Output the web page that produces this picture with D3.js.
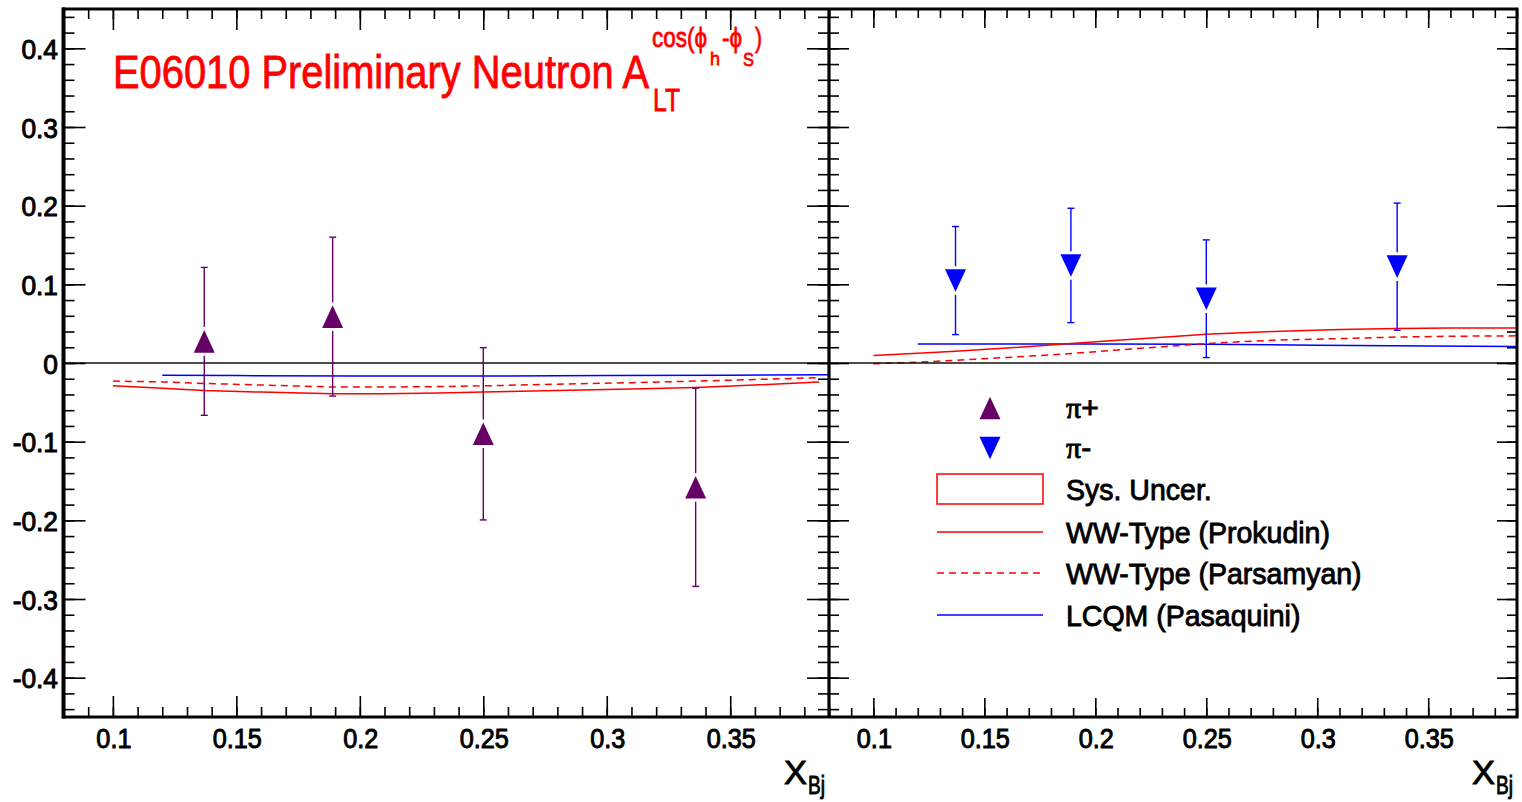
<!DOCTYPE html>
<html>
<head>
<meta charset="utf-8">
<script src="https://cdn.jsdelivr.net/npm/d3@7"></script>
<style>
  html, body { margin: 0; padding: 0; background: #fff; }
  svg { display: block; font-family: "Liberation Sans", Arial, sans-serif; }
</style>
</head>
<body>
<script>
// ---------------- DATA ----------------
const xBins = [0.137, 0.189, 0.250, 0.336];
const piPlusA   = [0.0275, 0.059, -0.090, -0.158];
const piPlusErr = [0.094, 0.101, 0.1095, 0.126];
const piMinusA   = [0.1048, 0.124, 0.0817, 0.1225];
const piMinusErr = [0.0687, 0.0727, 0.0748, 0.0808];

const wwX = [0.10, 0.12, 0.137, 0.16, 0.189, 0.21, 0.232, 0.25, 0.28, 0.31, 0.336, 0.36, 0.386];
const prokudinPiPlus  = [-0.029, -0.032, -0.035, -0.037, -0.039, -0.039, -0.038, -0.037, -0.035, -0.033, -0.031, -0.028, -0.024];
const parsamyanPiPlus = [-0.023, -0.024, -0.026, -0.028, -0.0305, -0.0305, -0.030, -0.029, -0.027, -0.025, -0.023, -0.021, -0.0186];

const wwXR = [0.10, 0.12, 0.137, 0.16, 0.189, 0.21, 0.232, 0.25, 0.28, 0.31, 0.336, 0.36, 0.39];
const prokudinPiMinus  = [0.0095, 0.0125, 0.015, 0.019, 0.0247, 0.029, 0.033, 0.0366, 0.040, 0.0425, 0.0439, 0.0445, 0.0445];
const parsamyanPiMinus = [-0.001, 0.001, 0.0035, 0.007, 0.012, 0.0165, 0.021, 0.0247, 0.029, 0.031, 0.033, 0.034, 0.0345];

const lcqmX = [0.12, 0.15, 0.20, 0.25, 0.30, 0.35, 0.39];
const lcqmPiPlus  = [-0.0157, -0.016, -0.0165, -0.0165, -0.016, -0.0155, -0.015];
const lcqmPiMinus = [0.024, 0.024, 0.0242, 0.0239, 0.0225, 0.0215, 0.021];

const xDomain = [0.08, 0.39];
const yDomain = [-0.45, 0.45];
const xMajor = [0.1, 0.15, 0.2, 0.25, 0.3, 0.35];
const xMinor = d3.range(8, 40).map(v => v / 100);
const yMajor = [-0.4, -0.3, -0.2, -0.1, 0, 0.1, 0.2, 0.3, 0.4];
const yMinor = d3.range(-22, 23).map(v => v / 50);

const legendLabels = ["Sys. Uncer.", "WW-Type (Prokudin)", "WW-Type (Parsamyan)", "LCQM (Pasaquini)"];

// ---------------- STYLE ----------------
const PURPLE = "#660066", BLUE = "#0000ff", RED = "#ff0000";
const T = 9, B = 717, L0 = 63.5, L1 = 829, R1 = 1517;

const svg = d3.select("body").append("svg").attr("width", 1522).attr("height", 802);

const y = d3.scaleLinear().domain(yDomain).range([B, T]);
const xL = d3.scaleLinear().domain(xDomain).range([L0, L1]);
const xR = d3.scaleLinear().domain(xDomain).range([L1, R1]);

function squeeze(sel, f) {
  sel.each(function () {
    const len = this.getComputedTextLength();
    d3.select(this).attr("textLength", len * f).attr("lengthAdjust", "spacingAndGlyphs");
  });
}

const line = (xs) => d3.line().x(d => xs(d[0])).y(d => y(d[1]));
const zip = (a, b) => a.map((v, i) => [v, b[i]]);

// ---------------- CURVES ----------------
const curves = svg.append("g").attr("fill", "none").attr("stroke-width", 1.5);
curves.append("path").attr("d", line(xL)(zip(lcqmX, lcqmPiPlus))).attr("stroke", BLUE);
curves.append("path").attr("d", line(xL)(zip(wwX, parsamyanPiPlus))).attr("stroke", RED).attr("stroke-dasharray", "7,5");
curves.append("path").attr("d", line(xL)(zip(wwX, prokudinPiPlus))).attr("stroke", RED);
curves.append("path").attr("d", line(xR)(zip(lcqmX, lcqmPiMinus))).attr("stroke", BLUE);
curves.append("path").attr("d", line(xR)(zip(wwXR, parsamyanPiMinus))).attr("stroke", RED).attr("stroke-dasharray", "7,5");
curves.append("path").attr("d", line(xR)(zip(wwXR, prokudinPiMinus))).attr("stroke", RED);

// zero line
svg.append("line").attr("x1", L0).attr("x2", R1).attr("y1", y(0)).attr("y2", y(0))
  .attr("stroke", "#111").attr("stroke-width", 1.4);

// ---------------- DATA POINTS ----------------
const HW = 10.5, HH = 11.3, GAP = 3;
function triPath(cx, cy, up) {
  return up
    ? `M${cx},${cy - HH}L${cx + HW},${cy + HH}L${cx - HW},${cy + HH}Z`
    : `M${cx - HW},${cy - HH}L${cx + HW},${cy - HH}L${cx},${cy + HH}Z`;
}
function drawPoints(xs, vals, errs, color, up) {
  const g = svg.append("g");
  vals.forEach((v, i) => {
    const cx = xs(xBins[i]), cy = y(v), top = y(v + errs[i]), bot = y(v - errs[i]);
    const eg = g.append("g").attr("stroke", color).attr("stroke-width", 1.4);
    eg.append("line").attr("x1", cx).attr("x2", cx).attr("y1", top).attr("y2", cy - HH - GAP);
    eg.append("line").attr("x1", cx).attr("x2", cx).attr("y1", cy + HH + GAP).attr("y2", bot);
    eg.append("line").attr("x1", cx - 3.5).attr("x2", cx + 3.5).attr("y1", top).attr("y2", top);
    eg.append("line").attr("x1", cx - 3.5).attr("x2", cx + 3.5).attr("y1", bot).attr("y2", bot);
    g.append("path").attr("d", triPath(cx, cy, up)).attr("fill", color);
  });
}
drawPoints(xL, piPlusA, piPlusErr, PURPLE, true);
drawPoints(xR, piMinusA, piMinusErr, BLUE, false);

// ---------------- AXES ----------------
function ticks(gen, pos, vals, size) {
  svg.append("g").attr("transform", pos)
    .call(gen.tickValues(vals).tickSize(size).tickFormat(""))
    .call(g => g.select(".domain").remove())
    .selectAll("line").attr("stroke", "#000").attr("stroke-width", 1.6);
}
// left panel
ticks(d3.axisRight(y), `translate(${L0},0)`, yMajor, 22);
ticks(d3.axisRight(y), `translate(${L0},0)`, yMinor, 11);
ticks(d3.axisLeft(y), `translate(${L1},0)`, yMajor, 22);
ticks(d3.axisLeft(y), `translate(${L1},0)`, yMinor, 11);
ticks(d3.axisBottom(xL), `translate(0,${T})`, xMajor, 21);
ticks(d3.axisBottom(xL), `translate(0,${T})`, xMinor, 10);
ticks(d3.axisTop(xL), `translate(0,${B})`, xMajor, 21);
ticks(d3.axisTop(xL), `translate(0,${B})`, xMinor, 10);
// right panel
ticks(d3.axisRight(y), `translate(${L1},0)`, yMajor, 20);
ticks(d3.axisRight(y), `translate(${L1},0)`, yMinor, 10);
ticks(d3.axisLeft(y), `translate(${R1},0)`, yMajor, 20);
ticks(d3.axisLeft(y), `translate(${R1},0)`, yMinor, 10);
ticks(d3.axisBottom(xR), `translate(0,${T})`, xMajor, 19);
ticks(d3.axisBottom(xR), `translate(0,${T})`, xMinor, 9);
ticks(d3.axisTop(xR), `translate(0,${B})`, xMajor, 19);
ticks(d3.axisTop(xR), `translate(0,${B})`, xMinor, 9);

// frames
const frame = svg.append("g").attr("fill", "none").attr("stroke", "#000");
frame.append("rect").attr("x", L0).attr("y", T).attr("width", R1 - L0).attr("height", B - T).attr("stroke-width", 3);
frame.append("line").attr("x1", L1).attr("x2", L1).attr("y1", T).attr("y2", B).attr("stroke-width", 3.2);
frame.append("line").attr("x1", L0).attr("x2", L0).attr("y1", T - 1.5).attr("y2", B + 1.5).attr("stroke-width", 4);

// y tick labels
const fmt = d => d === 0 ? "0" : String(+d.toFixed(1));
const yl = svg.append("g").selectAll("text").data(yMajor).join("text")
  .attr("x", 58).attr("y", d => y(d) + 10.5)
  .attr("text-anchor", "end").attr("font-size", 28)
  .attr("fill", "#000").attr("stroke", "#000").attr("stroke-width", 1)
  .text(fmt);
squeeze(yl, 0.94);

// x tick labels
[xL, xR].forEach(xs => {
  const xl = svg.append("g").selectAll("text").data(xMajor).join("text")
    .attr("x", d => xs(d) + 1).attr("y", 748)
    .attr("text-anchor", "middle").attr("font-size", 28)
    .attr("fill", "#000").attr("stroke", "#000").attr("stroke-width", 1)
    .text(d => String(d));
  squeeze(xl, 0.9);
});

// x axis titles (one text element each, subscript as tspan)
[L1, R1].forEach(xe => {
  const t = svg.append("text").attr("fill", "#000").attr("stroke", "#000").attr("stroke-width", 0.9);
  t.append("tspan").attr("x", xe - 45).attr("y", 784).attr("font-size", 34)
    .attr("textLength", 23).attr("lengthAdjust", "spacingAndGlyphs").text("X");
  t.append("tspan").attr("x", xe - 21).attr("y", 794).attr("font-size", 25)
    .attr("textLength", 17).attr("lengthAdjust", "spacingAndGlyphs").text("Bj");
});

// ---------------- TITLE (single text element with positioned tspans) ----------------
const title = svg.append("text").attr("fill", RED).attr("stroke", RED).attr("stroke-width", 0.8);
function tpiece(x0, yb, size, len, txt) {
  title.append("tspan").attr("x", x0).attr("y", yb).attr("font-size", size)
    .attr("textLength", len).attr("lengthAdjust", "spacingAndGlyphs").text(txt);
}
tpiece(113, 88.3, 46, 536, "E06010 Preliminary Neutron A");
tpiece(653, 110.5, 31, 27, "LT");
tpiece(652, 47, 28, 55, "cos(\u03d5");
tpiece(710, 65, 19, 10, "h");
tpiece(722, 47, 28, 20, "-\u03d5");
tpiece(743, 66, 19, 11, "S");
tpiece(755, 47, 28, 7, ")");

// ---------------- LEGEND ----------------
const lg = svg.append("g");
const lx0 = 937, lx1 = 1043, ltx = 1066, lmx = 990;
const rowY = [408, 448, 489, 532, 573, 615];
lg.append("path").attr("d", triPath(lmx, rowY[0], true)).attr("fill", PURPLE);
lg.append("path").attr("d", triPath(lmx, rowY[1], false)).attr("fill", BLUE);
lg.append("rect").attr("x", lx0).attr("y", rowY[2] - 15).attr("width", lx1 - lx0).attr("height", 30)
  .attr("fill", "none").attr("stroke", RED).attr("stroke-width", 1.5);
lg.append("line").attr("x1", lx0).attr("x2", lx1).attr("y1", rowY[3]).attr("y2", rowY[3]).attr("stroke", RED).attr("stroke-width", 1.5);
lg.append("line").attr("x1", lx0).attr("x2", lx1).attr("y1", rowY[4]).attr("y2", rowY[4]).attr("stroke", RED).attr("stroke-width", 1.5).attr("stroke-dasharray", "7,5");
lg.append("line").attr("x1", lx0).attr("x2", lx1).attr("y1", rowY[5]).attr("y2", rowY[5]).attr("stroke", BLUE).attr("stroke-width", 1.5);

const piLabels = [["\u03c0", "+"], ["\u03c0", "-"]];
piLabels.forEach((p, i) => {
  const t = lg.append("text").attr("x", ltx).attr("y", rowY[i] + 10).attr("font-size", 30)
    .attr("fill", "#000").attr("stroke", "#000").attr("stroke-width", 0.9);
  t.append("tspan").attr("font-family", "Liberation Serif, serif").text(p[0]);
  t.append("tspan").text(p[1]);
});
const lt = lg.selectAll("text.lab").data(legendLabels).join("text").attr("class", "lab")
  .attr("x", ltx).attr("y", (d, i) => rowY[i + 2] + 11).attr("font-size", 30)
  .attr("fill", "#000").attr("stroke", "#000").attr("stroke-width", 0.9)
  .text(d => d);
squeeze(lt, 0.95);
</script>
</body>
</html>
